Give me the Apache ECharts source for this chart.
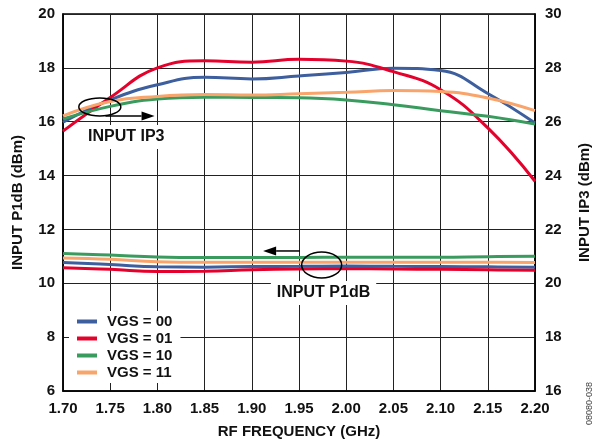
<!DOCTYPE html>
<html>
<head>
<meta charset="utf-8">
<script src="https://cdn.jsdelivr.net/npm/echarts@6/dist/echarts.min.js"></script>
<style>
  html, body { margin: 0; padding: 0; background: #fff; }
  #chart { width: 600px; height: 444px; }
</style>
</head>
<body>
<div id="chart"></div>
<script>
// RF frequency (GHz)
var freq = [1.70, 1.75, 1.80, 1.85, 1.90, 1.95, 2.00, 2.05, 2.10, 2.15, 2.20];
var names = ['VGS = 00', 'VGS = 01', 'VGS = 10', 'VGS = 11'];
var colors = ['#3d5f9e', '#e4022d', '#3a9b5e', '#f9a46b'];

// input IP3 (dBm), right axis
var ip3_00 = [25.98, 26.81, 27.37, 27.65, 27.59, 27.70, 27.83, 27.99, 27.90, 27.05, 25.95];
var ip3_01 = [25.65, 26.90, 28.00, 28.26, 28.21, 28.32, 28.25, 27.86, 27.19, 25.77, 23.79];
var ip3_10 = [26.10, 26.57, 26.84, 26.91, 26.90, 26.89, 26.81, 26.63, 26.41, 26.20, 25.91];
var ip3_11 = [26.22, 26.75, 26.94, 27.01, 26.99, 27.04, 27.09, 27.16, 27.12, 26.88, 26.41];

// input P1dB (dBm), left axis
var p1_00 = [10.77, 10.70, 10.61, 10.60, 10.62, 10.63, 10.64, 10.63, 10.62, 10.61, 10.60];
var p1_01 = [10.58, 10.52, 10.44, 10.45, 10.50, 10.53, 10.54, 10.53, 10.52, 10.50, 10.48];
var p1_10 = [11.11, 11.05, 10.98, 10.96, 10.96, 10.96, 10.97, 10.97, 10.97, 10.99, 11.00];
var p1_11 = [10.94, 10.89, 10.80, 10.78, 10.78, 10.78, 10.78, 10.78, 10.78, 10.78, 10.77];

var ip3Sets = [ip3_00, ip3_01, ip3_10, ip3_11];
var p1Sets = [p1_00, p1_01, p1_10, p1_11];

var FONT = 'Liberation Sans, Arial, sans-serif';
var labelStyle = { color: '#111', fontFamily: FONT, fontWeight: 'bold', fontSize: 15 };

function pairs(ys) {
    return freq.map(function (f, i) { return [f, ys[i]]; });
}

var series = [];
names.forEach(function (n, i) {
    series.push({
        name: n, type: 'line', yAxisIndex: 1, smooth: 0.45, showSymbol: false,
        data: pairs(ip3Sets[i]), lineStyle: { color: colors[i], width: 3 }, itemStyle: { color: colors[i] }
    });
    series.push({
        name: n, type: 'line', yAxisIndex: 0, smooth: 0.45, showSymbol: false,
        data: pairs(p1Sets[i]), lineStyle: { color: colors[i], width: 3 }, itemStyle: { color: colors[i] }
    });
});

var chart = echarts.init(document.getElementById('chart'));
chart.setOption({
    animation: false,
    grid: { left: 63, right: 65, top: 14, bottom: 53, show: true, borderColor: '#000', borderWidth: 1.5 },
    legend: {
        data: names, orient: 'vertical', left: 69, top: 311,
        backgroundColor: '#fff', padding: [3, 8, 3, 8], itemGap: 2,
        icon: 'rect', itemWidth: 20, itemHeight: 4,
        textStyle: { color: '#111', fontFamily: FONT, fontWeight: 'bold', fontSize: 15, padding: [0, 0, 0, 5] }
    },
    xAxis: {
        type: 'value', min: 1.70, max: 2.20, interval: 0.05,
        name: 'RF FREQUENCY (GHz)', nameLocation: 'middle', nameGap: 33,
        nameTextStyle: labelStyle,
        axisLine: { lineStyle: { color: '#000', width: 1.5 } },
        axisTick: { show: false },
        axisLabel: Object.assign({ margin: 10, formatter: function (v) { return v.toFixed(2); } }, labelStyle),
        splitLine: { show: true, lineStyle: { color: '#222', width: 1 } }
    },
    yAxis: [{
        type: 'value', min: 6, max: 20, interval: 2,
        name: 'INPUT P1dB (dBm)', nameLocation: 'middle', nameGap: 38,
        nameTextStyle: labelStyle,
        axisLine: { show: true, lineStyle: { color: '#000', width: 1.5 } },
        axisTick: { show: false },
        axisLabel: Object.assign({ margin: 8 }, labelStyle),
        splitLine: { show: true, lineStyle: { color: '#222', width: 1 } }
    }, {
        type: 'value', min: 16, max: 30, interval: 2,
        name: 'INPUT IP3 (dBm)', nameLocation: 'middle', nameGap: 42,
        nameTextStyle: labelStyle,
        axisLine: { show: true, lineStyle: { color: '#000', width: 1.5 } },
        axisTick: { show: false },
        axisLabel: Object.assign({ margin: 10 }, labelStyle),
        splitLine: { show: false }
    }],
    series: series
});

// annotations placed in data coordinates (left axis)
var ip3Ring = [1.739, 16.55], ip3ArrowFrom = [1.745, 16.21], ip3ArrowTo = [1.797, 16.21], ip3Text = [1.767, 15.43];
var p1Ring = [1.974, 10.68], p1ArrowFrom = [1.951, 11.2], p1ArrowTo = [1.912, 11.2], p1Text = [1.976, 9.64];

function px(p) { return chart.convertToPixel({ xAxisIndex: 0, yAxisIndex: 0 }, p); }

function arrow(from, to) {
    var a = px(from), b = px(to);
    var dir = b[0] > a[0] ? 1 : -1;
    var len = 13, half = 4.5;
    return [{
        type: 'line', z: 10,
        shape: { x1: a[0], y1: a[1], x2: b[0] - dir * len, y2: b[1] },
        style: { stroke: '#000', lineWidth: 1.5 }
    }, {
        type: 'polygon', z: 10,
        shape: { points: [[b[0], b[1]], [b[0] - dir * len, b[1] - half], [b[0] - dir * len, b[1] + half]] },
        style: { fill: '#000' }
    }];
}

function ring(c, rx, ry) {
    var p = px(c);
    return { type: 'ellipse', z: 10, shape: { cx: p[0], cy: p[1], rx: rx, ry: ry }, style: { fill: null, stroke: '#000', lineWidth: 1.5 } };
}

function tag(c, t) {
    var p = px(c);
    return {
        type: 'text', z: 1, x: p[0], y: p[1],
        style: {
            text: t, align: 'center', verticalAlign: 'middle',
            font: 'bold 16px ' + FONT, fill: '#111',
            backgroundColor: '#fff', padding: [4, 6]
        }
    };
}

var g = [];
g.push(ring(ip3Ring, 21, 9));
g = g.concat(arrow(ip3ArrowFrom, ip3ArrowTo));
g.push(tag(ip3Text, 'INPUT IP3'));
g.push(ring(p1Ring, 20, 13));
g = g.concat(arrow(p1ArrowFrom, p1ArrowTo));
g.push(tag(p1Text, 'INPUT P1dB'));
g.push({
    type: 'text', x: 590, y: 425, rotation: Math.PI / 2,
    style: { text: '08080-038', font: '9px ' + FONT, fill: '#444', align: 'left', verticalAlign: 'middle' }
});
chart.setOption({ graphic: g });
</script>
</body>
</html>
